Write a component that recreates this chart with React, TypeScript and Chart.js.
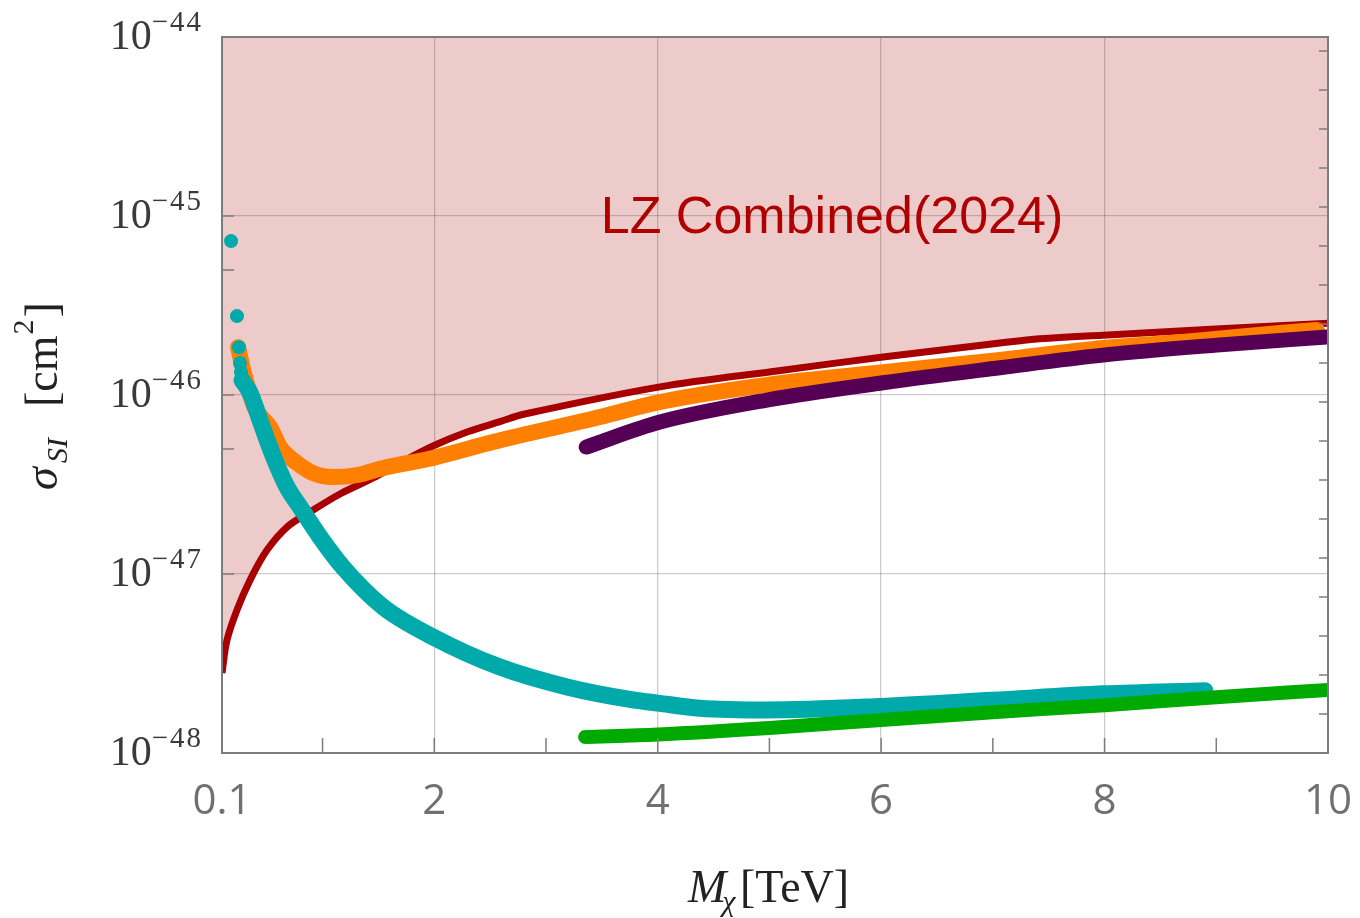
import React, { useEffect, useRef } from "react";
import { Chart, registerables } from "chart.js";

Chart.register(...registerables);

// ---------------- data ----------------
const xTickValues = [0.1, 2, 4, 6, 8, 10];
const xTickLabels = ["0.1", "2", "4", "6", "8", "10"];
const xFrameTicks = [1, 2, 3, 4, 5, 6, 7, 8, 9];
const yTickExponents = [-44, -45, -46, -47, -48];
const yLeftFrameTicks = [1e-45, 5e-46, 1e-46, 5e-47, 1e-47];

// LZ Combined (2024) limit
const lzMass = [0.1, 0.145, 0.234, 0.351, 0.503, 0.682, 0.888, 1.156, 1.452, 1.693, 1.989, 2.293, 2.588, 2.81, 4.02, 5.1, 6.017, 7.064, 7.42, 7.986, 10.0];
const lzSigma = [2.8e-48, 4.28e-48, 6.29e-48, 9.25e-48, 1.36e-47, 1.83e-47, 2.22e-47, 2.8e-47, 3.44e-47, 4.17e-47, 5.19e-47, 6.21e-47, 7.1e-47, 7.83e-47, 1.11e-46, 1.37e-46, 1.63e-46, 1.95e-46, 2.06e-46, 2.16e-46, 2.52e-46];

// orange band
const orangeMass = [0.243, 0.306, 0.395, 0.53, 0.619, 0.771, 0.915, 1.094, 1.308, 1.541, 1.989, 2.526, 3.483, 4.02, 4.978, 6.017, 7.064, 7.986, 8.7, 9.57, 9.9];
const orangeSigma = [1.85e-46, 1.26e-46, 8.45e-47, 6.62e-47, 5.12e-47, 4.17e-47, 3.66e-47, 3.48e-47, 3.57e-47, 3.91e-47, 4.45e-47, 5.46e-47, 7.53e-47, 9.14e-47, 1.14e-46, 1.34e-46, 1.57e-46, 1.83e-46, 1.98e-46, 2.22e-46, 2.31e-46];

// cyan: isolated points at low mass, then continuous band
const cyanDotMass = [0.181, 0.234, 0.252, 0.261, 0.27];
const cyanDotSigma = [7.24e-46, 2.76e-46, 1.85e-46, 1.51e-46, 1.34e-46];
const cyanMass = [0.279, 0.351, 0.44, 0.548, 0.682, 0.798, 0.977, 1.183, 1.541, 1.989, 2.588, 3.188, 3.779, 4.0, 4.379, 4.978, 5.99, 6.992, 7.995, 8.899];
const cyanSigma = [1.21e-46, 1.03e-46, 7.24e-47, 4.74e-47, 3.06e-47, 2.37e-47, 1.61e-47, 1.09e-47, 6.55e-48, 4.45e-48, 3.02e-48, 2.34e-48, 1.98e-48, 1.9e-48, 1.78e-48, 1.74e-48, 1.82e-48, 1.97e-48, 2.14e-48, 2.23e-48];

// purple band
const purpleMass = [3.36, 4.02, 4.978, 6.017, 7.064, 7.986, 9.007, 9.99];
const purpleSigma = [5.12e-47, 7.06e-47, 9.37e-47, 1.17e-46, 1.42e-46, 1.67e-46, 1.9e-46, 2.11e-46];

// green band
const greenMass = [3.35, 4.0, 5.0, 6.0, 7.0, 8.0, 9.0, 10.0];
const greenSigma = [1.23e-48, 1.27e-48, 1.38e-48, 1.53e-48, 1.69e-48, 1.85e-48, 2.05e-48, 2.25e-48];

const lzLabel = "LZ Combined(2024)";
const lzLabelMass = 5.56;
const lzLabelSigma = 8.0e-46;

// ---------------- helpers ----------------
const pts = (xs: number[], ys: number[]) => xs.map((x, i) => ({ x, y: ys[i] }));

const FRAME = "#7d7d7d";
const SERIF = '"Liberation Serif", "Times New Roman", serif';

const decorPlugin = {
  id: "decor",
  afterDraw(chart: any) {
    const ctx: any = chart.ctx;
    const { left, right, top, bottom } = chart.chartArea;
    const xs = chart.scales.x;
    const ys = chart.scales.y;
    ctx.save();

    // LZ label
    ctx.font = '52px "Liberation Sans", Arial, sans-serif';
    ctx.fillStyle = "#b00000";
    ctx.textAlign = "center";
    ctx.textBaseline = "alphabetic";
    ctx.fillText(lzLabel, xs.getPixelForValue(lzLabelMass), ys.getPixelForValue(lzLabelSigma));

    // frame ticks
    ctx.strokeStyle = FRAME;
    ctx.lineWidth = 1.5;
    ctx.beginPath();
    xFrameTicks.forEach((v) => {
      const px = xs.getPixelForValue(v);
      ctx.moveTo(px, bottom);
      ctx.lineTo(px, bottom - 15);
    });
    yLeftFrameTicks.forEach((v) => {
      const py = ys.getPixelForValue(v);
      ctx.moveTo(left, py);
      ctx.lineTo(left + 12, py);
    });
    const step = (bottom - top) / 18.36;
    for (let k = 1; k <= 18; k++) {
      const py = bottom - k * step;
      ctx.moveTo(right, py);
      ctx.lineTo(right - 9, py);
    }
    ctx.stroke();

    // frame
    ctx.lineWidth = 2;
    ctx.strokeRect(left, top, right - left, bottom - top);

    // x tick labels
    ctx.fillStyle = "#707070";
    ctx.font = '42px "Open Sans", "DejaVu Sans", sans-serif';
    ctx.textAlign = "center";
    xTickValues.forEach((v, i) => {
      ctx.fillText(xTickLabels[i], xs.getPixelForValue(v), bottom + 61);
    });

    // y tick labels 10^{e}
    ctx.fillStyle = "#3a3a3a";
    ctx.textAlign = "right";
    const labelRight = left - 19;
    yTickExponents.forEach((e) => {
      const py = ys.getPixelForValue(Math.pow(10, e));
      const sup = "\u2212" + String(-e);
      ctx.font = "29px " + SERIF;
      ctx.letterSpacing = "2px";
      const sw = ctx.measureText(sup).width;
      ctx.fillText(sup, labelRight, py - 6);
      ctx.letterSpacing = "0px";
      ctx.font = "42px " + SERIF;
      ctx.fillText("10", labelRight - sw, py + 12);
    });

    // x title: M_chi [TeV]
    ctx.fillStyle = "#222";
    ctx.textAlign = "left";
    const tx = 688;
    const tb = bottom + 149;
    ctx.font = "italic 46px " + SERIF;
    ctx.fillText("M", tx, tb);
    const mw = ctx.measureText("M").width;
    ctx.font = "italic 30px " + SERIF;
    ctx.fillText("\u03c7", tx + mw - 4, tb + 9);
    ctx.font = "46px " + SERIF;
    ctx.fillText("[TeV]", 740, tb);

    // y title: sigma_SI [cm^2]
    ctx.save();
    ctx.translate(57, 490);
    ctx.rotate(-Math.PI / 2);
    ctx.textAlign = "left";
    ctx.font = "italic 46px " + SERIF;
    ctx.fillText("\u03c3", 0, 0);
    ctx.font = "italic 30px " + SERIF;
    ctx.fillText("SI", 27, 10);
    ctx.font = "46px " + SERIF;
    ctx.fillText("[cm", 83, 0);
    const cw = ctx.measureText("[cm").width;
    ctx.font = "30px " + SERIF;
    ctx.fillText("2", 83 + cw + 1, -24);
    const tw = ctx.measureText("2").width;
    ctx.font = "46px " + SERIF;
    ctx.fillText("]", 83 + cw + tw + 3, 0);
    ctx.restore();

    ctx.restore();
  },
};

const band = (label: string, xs: number[], ys: number[], color: string, width: number, order: number) => ({
  label,
  data: pts(xs, ys),
  showLine: true,
  borderColor: color,
  backgroundColor: color,
  borderWidth: width,
  borderCapStyle: "round",
  borderJoinStyle: "round",
  pointRadius: 0,
  cubicInterpolationMode: "monotone",
  fill: false,
  clip: 0,
  order,
});

export default function App() {
  const canvasRef = useRef<HTMLCanvasElement | null>(null);

  useEffect(() => {
    if (!canvasRef.current) return;
    const chart = new Chart(canvasRef.current, {
      type: "scatter",
      data: {
        datasets: [
          {
            label: "LZ",
            data: pts(lzMass, lzSigma),
            showLine: true,
            borderColor: "#a80000",
            borderWidth: 7,
            borderJoinStyle: "round",
            pointRadius: 0,
            tension: 0.35,
            fill: "end",
            backgroundColor: "rgba(170,0,0,0.205)",
            clip: 0,
            order: 6,
          } as any,
          band("orange", orangeMass, orangeSigma, "#ff7f00", 16, 5) as any,
          band("cyan", cyanMass, cyanSigma, "#00aaaa", 17, 4) as any,
          {
            label: "cyanDots",
            data: pts(cyanDotMass, cyanDotSigma),
            showLine: false,
            pointRadius: 7,
            pointBorderWidth: 0,
            pointBackgroundColor: "#00aaaa",
            backgroundColor: "#00aaaa",
            borderColor: "#00aaaa",
            clip: 0,
            order: 3,
          } as any,
          band("purple", purpleMass, purpleSigma, "#550055", 15, 2) as any,
          band("green", greenMass, greenSigma, "#00aa00", 14, 1) as any,
        ],
      },
      options: {
        animation: false,
        responsive: false,
        devicePixelRatio: 1,
        layout: { padding: { left: 0, right: 32, top: 37, bottom: 0 } },
        plugins: { legend: { display: false }, tooltip: { enabled: false } },
        scales: {
          x: {
            type: "linear",
            min: 0.1,
            max: 10,
            ticks: { display: false },
            border: { display: false },
            grid: {
              drawTicks: false,
              lineWidth: 1.3,
              color: (c: any) =>
                c.tick && (c.tick.value === 0.1 || c.tick.value === 10) ? "rgba(0,0,0,0)" : "rgba(0,0,0,0.2)",
            },
            afterBuildTicks: (s: any) => {
              s.ticks = xTickValues.map((v) => ({ value: v }));
            },
            afterFit: (s: any) => {
              s.height = 165;
            },
          },
          y: {
            type: "logarithmic",
            min: 1e-48,
            max: 1e-44,
            ticks: { display: false },
            border: { display: false },
            grid: {
              drawTicks: false,
              lineWidth: 1.3,
              color: "rgba(0,0,0,0.2)",
            },
            afterBuildTicks: (s: any) => {
              s.ticks = yTickExponents.map((e) => ({ value: Math.pow(10, e) }));
            },
            afterFit: (s: any) => {
              s.width = 222;
            },
          },
        },
      } as any,
      plugins: [decorPlugin as any],
    });
    return () => chart.destroy();
  }, []);

  return (
    <div style={{ position: "fixed", left: 0, top: 0, width: 1360, height: 918, background: "#fff" }}>
      <canvas ref={canvasRef} width={1360} height={918} />
    </div>
  );
}
